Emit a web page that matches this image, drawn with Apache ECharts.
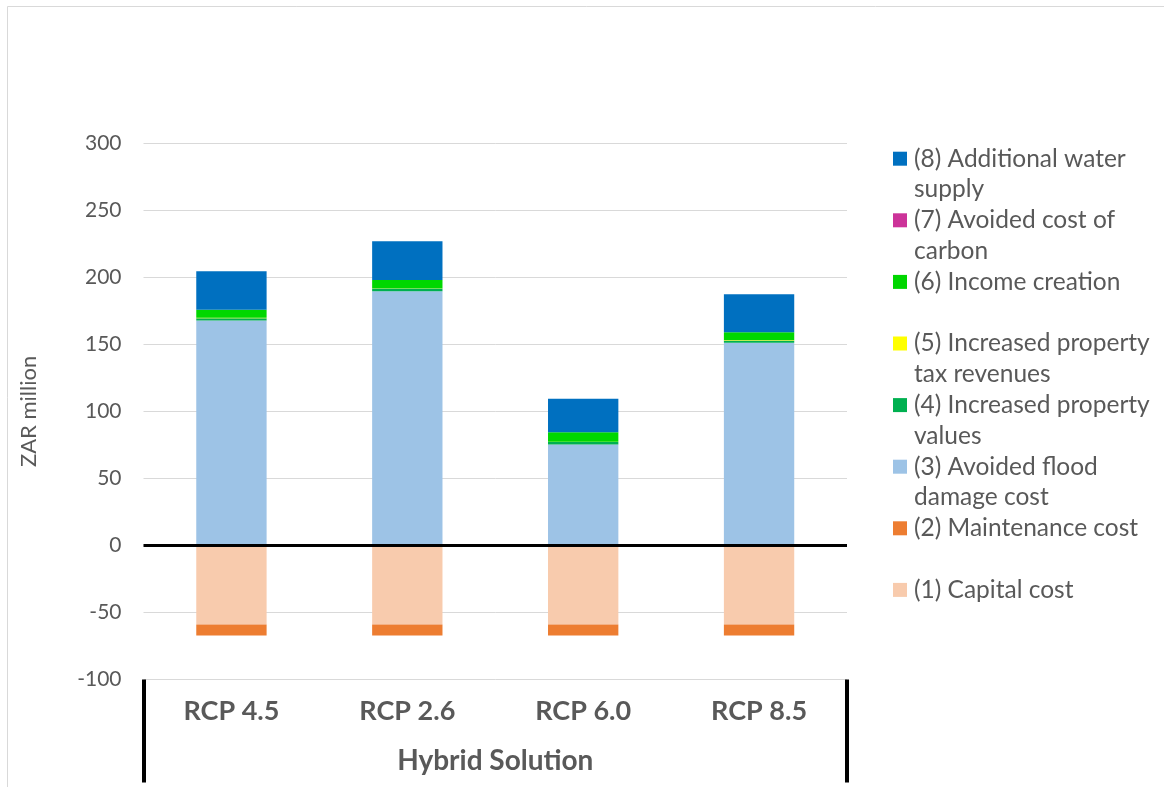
<!DOCTYPE html>
<html>
<head>
<meta charset="utf-8">
<script src="https://cdn.jsdelivr.net/npm/echarts@6/dist/echarts.min.js"></script>
<style>
html,body{margin:0;padding:0;background:#fff;}
#chart{width:1164px;height:787px;}
</style>
</head>
<body>
<div id="chart"></div>
<script>
var categories = ['RCP 4.5', 'RCP 2.6', 'RCP 6.0', 'RCP 8.5'];
var groupLabel = ['Hybrid Solution'];
var seriesNames = [
  '(1) Capital cost',
  '(2) Maintenance cost',
  '(3) Avoided flood damage cost',
  '(4) Increased property values',
  '(5) Increased property tax revenues',
  '(6) Income creation',
  '(7) Avoided cost of carbon',
  '(8) Additional water supply'
];
var legendLines = [
  ['(1) Capital cost'],
  ['(2) Maintenance cost'],
  ['(3) Avoided flood', 'damage cost'],
  ['(4) Increased property', 'values'],
  ['(5) Increased property', 'tax revenues'],
  ['(6) Income creation'],
  ['(7) Avoided cost of', 'carbon'],
  ['(8) Additional water', 'supply']
];
var capitalCost = [-59, -59, -59, -59];
var maintenanceCost = [-8.2, -8.2, -8.2, -8.2];
var avoidedFlood = [167.9, 189.6, 75.4, 151.3];
var propertyValues = [1.5, 2.0, 1.7, 1.5];
var propertyTax = [0.5, 0.3, 0.3, 0.5];
var incomeCreation = [6.0, 6.2, 7.0, 5.7];
var avoidedCarbon = [0, 0, 0, 0];
var waterSupply = [28.6, 28.8, 25.1, 28.3];
var yTicks = [-100, -50, 0, 50, 100, 150, 200, 250, 300];

var seriesData = [capitalCost, maintenanceCost, avoidedFlood, propertyValues,
  propertyTax, incomeCreation, avoidedCarbon, waterSupply];
var colors = ['#F8CBAD', '#ED7D31', '#9DC3E6', '#00B050', '#FFFF00', '#00D700', '#CC3399', '#0070C0'];

var FONT = 'Lato';
var TXT = '#595959';

var series = seriesNames.map(function (n, i) {
  var s = {
    name: n,
    type: 'bar',
    stack: 'total',
    barWidth: '40%',
    data: seriesData[i],
    itemStyle: { color: colors[i] },
    emphasis: { disabled: true }
  };
  if (i === 0) {
    s.markLine = {
      silent: true,
      symbol: 'none',
      label: { show: false },
      lineStyle: { color: '#000', width: 3, type: 'solid' },
      data: [{ yAxis: 0 }]
    };
  }
  return s;
});

var legendMap = {};
seriesNames.forEach(function (n, i) {
  var l = legendLines[i].slice();
  if (l.length === 1) l.push(' ');
  legendMap[n] = ' \n' + l.join('\n');
});

var chart = echarts.init(document.getElementById('chart'), null, { renderer: 'canvas' });
chart.setOption({
  animation: false,
  backgroundColor: '#fff',
  textStyle: { fontFamily: FONT },
  graphic: [{
    type: 'rect',
    shape: { x: 7.5, y: 6.5, width: 1300, height: 900 },
    style: { fill: 'none', stroke: '#d9d9d9', lineWidth: 1 },
    silent: true
  }],
  grid: { left: 143.5, right: 317, top: 143.3, bottom: 107.5, containLabel: false },
  legend: {
    orient: 'vertical',
    left: 888,
    top: 107.5,
    itemWidth: 14,
    itemHeight: 14,
    itemGap: -30.8,
    icon: 'rect',
    selectedMode: false,
    data: seriesNames.slice().reverse(),
    formatter: function (name) { return legendMap[name]; },
    textStyle: { fontFamily: FONT, fontSize: 24.5, color: TXT, lineHeight: 30.8, padding: [0, 0, 0, 2] }
  },
  xAxis: [{
    type: 'category',
    data: categories,
    position: 'bottom',
    axisLine: { show: false },
    axisTick: { show: false },
    axisLabel: { color: TXT, fontFamily: FONT, fontSize: 27, fontWeight: 'bold', margin: 18 },
    splitLine: { show: false }
  }, {
    type: 'category',
    data: groupLabel,
    position: 'bottom',
    axisLine: { show: false },
    axisTick: { show: true, length: 103, alignWithLabel: false, lineStyle: { color: '#000', width: 4 } },
    axisLabel: { color: TXT, fontFamily: FONT, fontSize: 28, fontWeight: 'bold', margin: 67 },
    splitLine: { show: false }
  }],
  yAxis: {
    type: 'value',
    min: yTicks[0],
    max: yTicks[yTicks.length - 1],
    interval: 50,
    name: 'ZAR million',
    nameLocation: 'middle',
    nameGap: 104,
    nameTextStyle: { color: TXT, fontFamily: FONT, fontSize: 22 },
    axisLine: { show: false },
    axisTick: { show: false },
    axisLabel: { color: TXT, fontFamily: FONT, fontSize: 21, margin: 22 },
    splitLine: { show: true, lineStyle: { color: '#d9d9d9', width: 1 } }
  },
  series: series
});
</script>
</body>
</html>
